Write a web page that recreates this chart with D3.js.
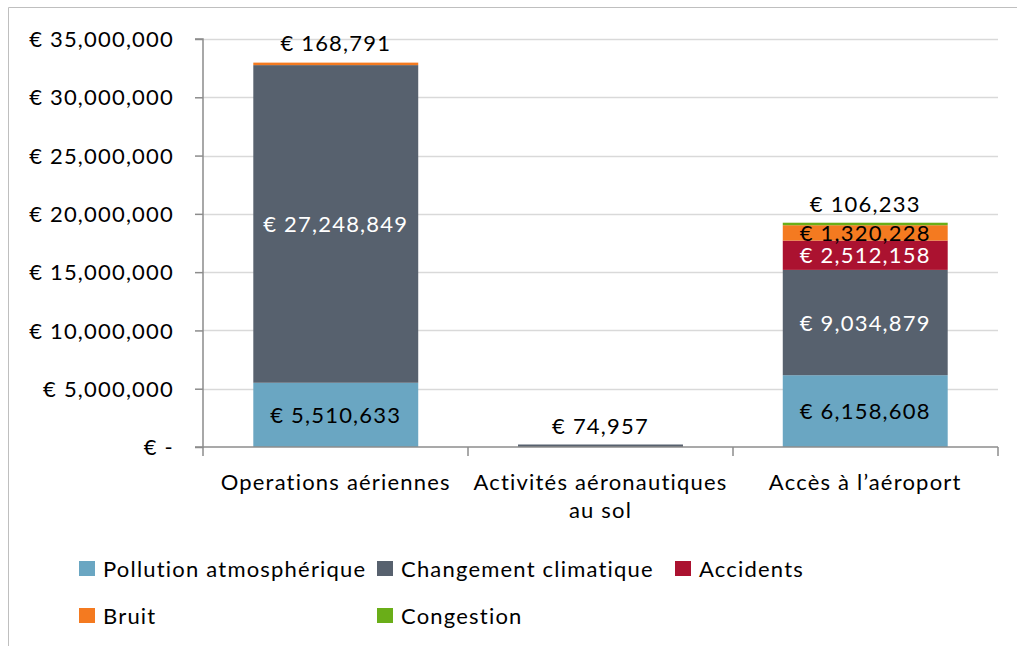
<!DOCTYPE html>
<html>
<head>
<meta charset="utf-8">
<script src="https://cdn.jsdelivr.net/npm/d3@7"></script>
<style>
body { margin:0; background:#fff; }
svg text { font-family: Lato, "Open Sans", sans-serif; letter-spacing: 1.2px; }
</style>
</head>
<body>
<div class="chart"></div>
<script>
// ---------- data
var categories = ["Operations aériennes", "Activités aéronautiques au sol", "Accès à l\u2019aéroport"];
var categoryLines = [["Operations aériennes"], ["Activités aéronautiques", "au sol"], ["Accès à l\u2019aéroport"]];
var seriesNames = ["Pollution atmosphérique", "Changement climatique", "Accidents", "Bruit", "Congestion"];
var seriesColors = ["#6aa6c2", "#57616e", "#ab1230", "#f47a20", "#6aae18"];
var pollution = [5510633, 0, 6158608];
var climat = [27248849, 74957, 9034879];
var accidents = [0, 0, 2512158];
var bruit = [168791, 0, 1320228];
var congestion = [0, 0, 106233];
var yTicks = [0, 5000000, 10000000, 15000000, 20000000, 25000000, 30000000, 35000000];

var width = 1017, height = 646;
var svg = d3.select(".chart").append("svg")
  .attr("width", width).attr("height", height);

// chart frame
svg.append("path")
  .attr("d", "M8.5," + height + "V7.5H" + width)
  .attr("fill", "none").attr("stroke", "#bfbfbf");

var x = d3.scaleBand().domain(categories).range([203, 998]).paddingInner(0.377).paddingOuter(0.19);
var xOuter = d3.scaleBand().domain(categories).range([203, 998]);
var y = d3.scaleLinear().domain([0, 35000000]).range([447, 39]);

// grid
svg.append("g").selectAll("line").data(yTicks.slice(1)).enter().append("line")
  .attr("x1", 203).attr("x2", 998)
  .attr("y1", function(d){ return Math.round(y(d)) + 0.5; })
  .attr("y2", function(d){ return Math.round(y(d)) + 0.5; })
  .attr("stroke", "#d9d9d9").attr("stroke-width", 1.5);

// stack
var rows = categories.map(function(c, i){
  return {cat: c, s0: pollution[i], s1: climat[i], s2: accidents[i], s3: bruit[i], s4: congestion[i]};
});
var stack = d3.stack().keys(["s0", "s1", "s2", "s3", "s4"]);
var layers = stack(rows);

// tiny segments get a minimum visible thickness, grown upward
var bars = svg.append("g");
layers.forEach(function(layer, k){
  bars.selectAll("rect.s" + k).data(layer.filter(function(d){ return d[1] > d[0]; })).enter().append("rect")
    .attr("x", function(d){ return x(d.data.cat); })
    .attr("width", x.bandwidth())
    .attr("y", function(d){ return Math.min(y(d[1]), y(d[0]) - 2.5); })
    .attr("height", function(d){ return Math.max(2.5, y(d[0]) - y(d[1])); })
    .attr("fill", seriesColors[k]);
});

// axes
var yAxis = d3.axisLeft(y).tickValues(yTicks).tickSize(8)
  .tickFormat(function(d){ return d === 0 ? "\u20ac -" : "\u20ac " + d3.format(",")(d); });
var gy = svg.append("g").attr("transform", "translate(203,0)").call(yAxis);
gy.select(".domain").attr("stroke", "#8c8c8c").attr("stroke-width", 1.5).attr("d", "M-8,39H0V447H-8");
gy.selectAll(".tick line").attr("stroke", "#8c8c8c").attr("stroke-width", 1.5);
gy.selectAll(".tick text").attr("x", -29).attr("font-size", 22).attr("fill", "#000")
  .attr("dy", "0.35em");

var gx = svg.append("g").attr("transform", "translate(0,447)");
gx.append("line").attr("x1", 203).attr("x2", 998).attr("stroke", "#8c8c8c").attr("stroke-width", 1.5);
var xEdges = categories.map(function(c){ return xOuter(c); }).concat([998]);
gx.selectAll("line.tk").data(xEdges).enter().append("line")
  .attr("x1", function(d){ return d; }).attr("x2", function(d){ return d; })
  .attr("y1", 0).attr("y2", 9).attr("stroke", "#8c8c8c").attr("stroke-width", 1.5);
categories.forEach(function(c, i){
  var t = gx.append("text").attr("text-anchor", "middle").attr("font-size", 22).attr("fill", "#000")
    .attr("x", x(c) + x.bandwidth() / 2);
  categoryLines[i].forEach(function(line, j){
    t.append("tspan").attr("x", x(c) + x.bandwidth() / 2).attr("y", 43 + j * 28).text(line);
  });
});

// data labels
var fmt = function(v){ return "\u20ac " + d3.format(",")(v); };
var labelColors = ["#000", "#fff", "#fff", "#000", "#000"];
layers.forEach(function(layer, k){
  layer.forEach(function(d){
    var v = d[1] - d[0];
    if (v <= 0) return;
    var cx = x(d.data.cat) + x.bandwidth() / 2;
    var segH = y(d[0]) - y(d[1]);
    var isTop = d[1] === d3.max(layers, function(l){ return l.find(function(e){ return e.data.cat === d.data.cat; })[1]; });
    var yy, col;
    if (segH < 12 && isTop) { yy = y(d[1]) - 12; col = "#000"; }
    else { yy = (y(d[0]) + y(d[1])) / 2 + 8; col = labelColors[k]; }
    svg.append("text").attr("x", cx).attr("y", yy).attr("text-anchor", "middle")
      .attr("font-size", 22).attr("fill", col).text(fmt(v));
  });
});

// legend
var legend = svg.append("g");
seriesNames.forEach(function(n, i){
  var col = i % 3, row = Math.floor(i / 3);
  var lx = 79 + col * 298, ly = 561 + row * 47;
  legend.append("rect").attr("x", lx).attr("y", ly).attr("width", 16).attr("height", 15).attr("fill", seriesColors[i]);
  legend.append("text").attr("x", lx + 24).attr("y", ly + 16).attr("font-size", 22).attr("fill", "#000").text(n);
});
</script>
</body>
</html>
